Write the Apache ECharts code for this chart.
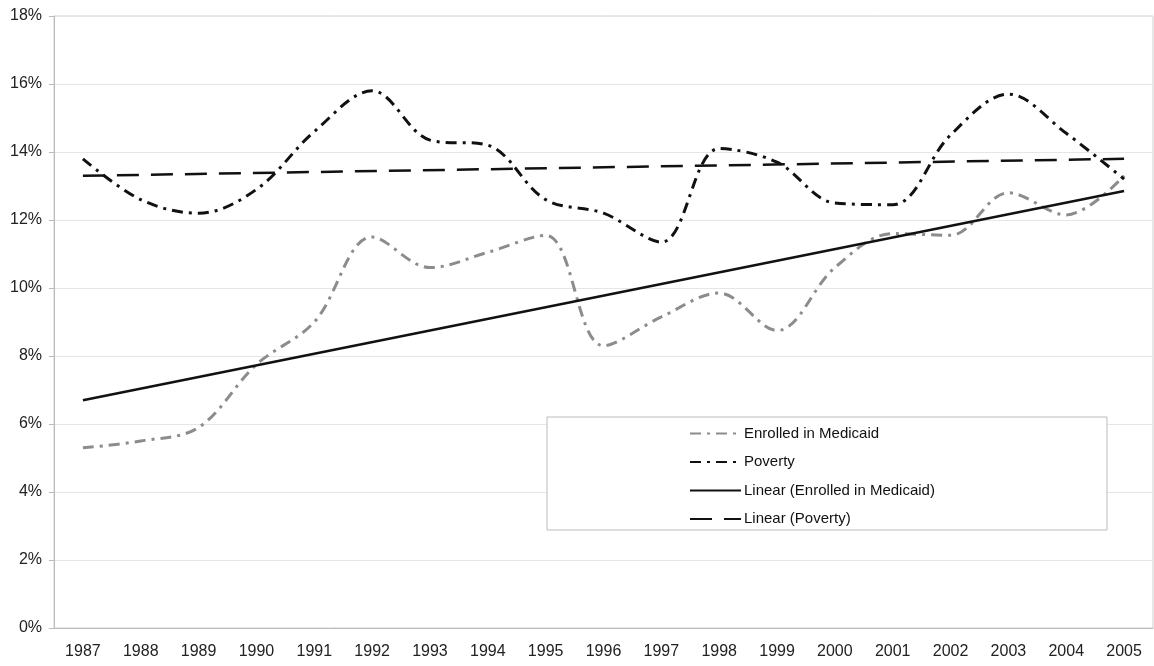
<!DOCTYPE html>
<html>
<head>
<meta charset="utf-8">
<script src="https://cdn.jsdelivr.net/npm/echarts@6/dist/echarts.min.js"></script>
<style>
  html, body { margin: 0; padding: 0; background: #fff; }
  #chart { width: 1154px; height: 666px; }
</style>
</head>
<body>
<div id="chart"></div>
<script>
const years = ['1987', '1988', '1989', '1990', '1991', '1992', '1993', '1994', '1995', '1996',
  '1997', '1998', '1999', '2000', '2001', '2002', '2003', '2004', '2005']

// percent values
const medicaid = [5.3, 5.5, 5.9, 7.75, 9.0, 11.5, 10.6, 11.05, 11.55, 8.3,
  9.15, 9.85, 8.75, 10.6, 11.6, 11.55, 12.8, 12.15, 13.3]
const poverty = [13.8, 12.6, 12.2, 12.9, 14.6, 15.8, 14.35, 14.2, 12.6, 12.2,
  11.35, 14.1, 13.7, 12.5, 12.45, 14.5, 15.7, 14.55, 13.2]

// trend line end points (first and last year)
const medicaidTrend = [6.7, 12.85]
const povertyTrend = [13.3, 13.8]

function endPoints(pair) {
  return years.map((_, i) => (i === 0 ? pair[0] : i === years.length - 1 ? pair[1] : null))
}

const chart = echarts.init(document.getElementById('chart'))
const font = 'Liberation Sans, Arial, sans-serif'

chart.setOption({
  animation: false,
  textStyle: { fontFamily: font },
  grid: { left: 54, right: 1, top: 16, bottom: 38, show: true, borderColor: '#d0d0d0', borderWidth: 1 },
  legend: {
    orient: 'vertical',
    left: 684,
    top: 421,
    z: 10,
    itemWidth: 51,
    itemHeight: 14,
    itemGap: 13.5,
    itemStyle: { opacity: 0 },
    textStyle: { fontSize: 15, color: '#111', fontFamily: font, padding: [0, 0, 0, -2] },
    data: ['Enrolled in Medicaid', 'Poverty', 'Linear (Enrolled in Medicaid)', 'Linear (Poverty)'],
  },
  graphic: [
    {
      type: 'rect',
      z: 5,
      shape: { x: 547, y: 417, width: 560, height: 113 },
      style: { fill: '#fff', stroke: '#bbb', lineWidth: 1 },
    },
  ],
  xAxis: {
    type: 'category',
    data: years,
    boundaryGap: true,
    axisLine: { lineStyle: { color: '#bbb' } },
    axisTick: { alignWithLabel: false, length: 6, lineStyle: { color: '#bbb' } },
    axisLabel: { color: '#222', fontSize: 16, margin: 16, fontFamily: font },
  },
  yAxis: {
    type: 'value',
    min: 0,
    max: 18,
    interval: 2,
    axisLine: { show: true, lineStyle: { color: '#bbb' } },
    axisTick: { show: true, length: 5, lineStyle: { color: '#bbb' } },
    axisLabel: { color: '#222', fontSize: 16, margin: 12, formatter: '{value}%', fontFamily: font },
    splitLine: { lineStyle: { color: '#e6e6e6' } },
  },
  series: [
    {
      name: 'Enrolled in Medicaid',
      type: 'line',
      data: medicaid,
      smooth: 0.35,
      symbol: 'none',
      lineStyle: { color: '#8c8c8c', width: 3, type: [11, 6, 3, 6] },
      itemStyle: { color: '#8c8c8c' },
    },
    {
      name: 'Poverty',
      type: 'line',
      data: poverty,
      smooth: 0.35,
      symbol: 'none',
      lineStyle: { color: '#111', width: 3, type: [11, 6, 3, 6] },
      itemStyle: { color: '#111' },
    },
    {
      name: 'Linear (Enrolled in Medicaid)',
      type: 'line',
      data: endPoints(medicaidTrend),
      connectNulls: true,
      symbol: 'none',
      lineStyle: { color: '#111', width: 2.5, type: 'solid' },
      itemStyle: { color: '#111' },
    },
    {
      name: 'Linear (Poverty)',
      type: 'line',
      data: endPoints(povertyTrend),
      connectNulls: true,
      symbol: 'none',
      lineStyle: { color: '#111', width: 2.5, type: [22, 12] },
      itemStyle: { color: '#111' },
    },
  ],
})
</script>
</body>
</html>
